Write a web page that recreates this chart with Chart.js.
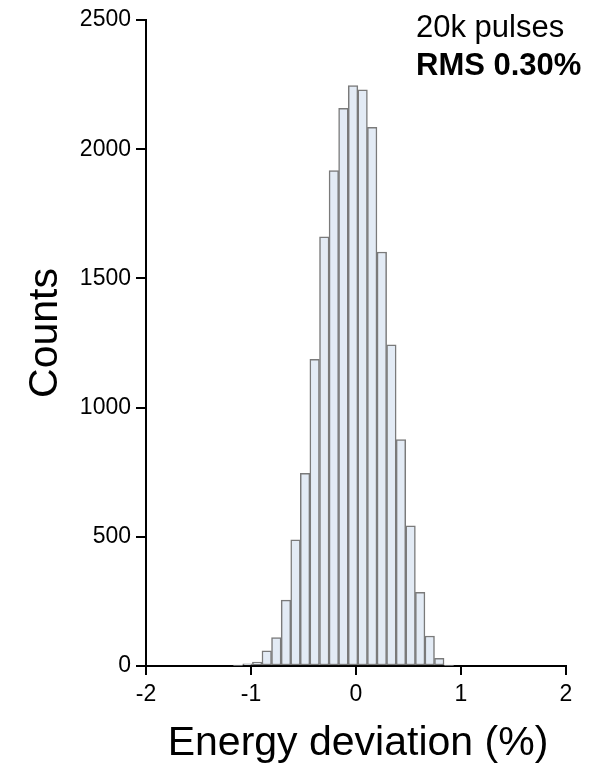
<!DOCTYPE html>
<html>
<head>
<meta charset="utf-8">
<script src="https://cdn.jsdelivr.net/npm/chart.js@4"></script>
<style>
  html, body { margin: 0; padding: 0; background: #fff; }
  #wrap { width: 604px; height: 768px; }
</style>
</head>
<body>
<div id="wrap"><canvas id="chart" width="604" height="768"></canvas></div>
<script>
// histogram bins (centre of each bin, % energy deviation) and counts
const binCenters = [-1.124, -1.033, -0.941, -0.850, -0.759, -0.667, -0.576, -0.485,
  -0.394, -0.302, -0.211, -0.120, -0.028, 0.063, 0.154, 0.246, 0.337, 0.428,
  0.520, 0.611, 0.702, 0.793, 0.885];
const counts = [2, 8, 15, 59, 110, 255, 488, 746, 1187, 1661, 1917, 2158, 2246,
  2230, 2085, 1602, 1243, 876, 542, 285, 116, 30, 2];

const xTicks = [-2, -1, 0, 1, 2];
const yTicks = [0, 500, 1000, 1500, 2000, 2500];

const FONT = "'Liberation Sans', Arial, Helvetica, sans-serif";

// texts drawn straight on the canvas (axis titles + annotation)
const labelsPlugin = {
  id: 'labels',
  afterDraw(chart) {
    const ctx = chart.ctx;
    ctx.save();
    ctx.fillStyle = '#000';
    ctx.textBaseline = 'alphabetic';

    ctx.font = `41px ${FONT}`;
    ctx.textAlign = 'center';
    ctx.fillText('Energy deviation (%)', 358, 755);

    ctx.save();
    ctx.translate(57, 333);
    ctx.rotate(-Math.PI / 2);
    ctx.fillText('Counts', 0, 0);
    ctx.restore();

    ctx.textAlign = 'left';
    ctx.font = `31px ${FONT}`;
    ctx.fillText('20k pulses', 416, 37);
    ctx.font = `bold 31px ${FONT}`;
    ctx.fillText('RMS 0.30%', 416, 75);
    ctx.restore();
  }
};

const points = binCenters.map((x, i) => ({ x, y: counts[i] }));

new Chart(document.getElementById('chart'), {
  type: 'bar',
  data: {
    datasets: [{
      data: points,
      backgroundColor: '#e3ebf5',
      borderColor: '#7a7a7a',
      borderWidth: 1.5,
      borderSkipped: false,
      barPercentage: 1,
      categoryPercentage: 1
    }]
  },
  options: {
    responsive: false,
    animation: false,
    layout: { padding: { top: 20, right: 38, left: 0, bottom: 0 } },
    plugins: { legend: { display: false }, tooltip: { enabled: false } },
    scales: {
      x: {
        type: 'linear',
        min: -2, max: 2,
        offset: false,
        afterFit(s) { s.height = 102; },
        afterBuildTicks(s) { s.ticks = xTicks.map(v => ({ value: v })); },
        grid: { display: true, offset: false, drawOnChartArea: false, drawTicks: true, tickLength: 9, color: '#000', lineWidth: 2 },
        border: { display: true, color: '#000', width: 2 },
        ticks: { color: '#000', padding: 6, autoSkip: false, maxRotation: 0,
          font: { family: FONT, size: 23 }, callback: v => String(v) }
      },
      y: {
        min: 0, max: 2500,
        afterFit(s) { s.width = 146; },
        afterBuildTicks(s) { s.ticks = yTicks.map(v => ({ value: v })); },
        grid: { display: true, drawOnChartArea: false, drawTicks: true, tickLength: 10, color: '#000', lineWidth: 2 },
        border: { display: true, color: '#000', width: 2 },
        ticks: { color: '#000', padding: 5, font: { family: FONT, size: 23 }, callback: v => String(v) }
      }
    }
  },
  plugins: [labelsPlugin]
});
</script>
</body>
</html>
